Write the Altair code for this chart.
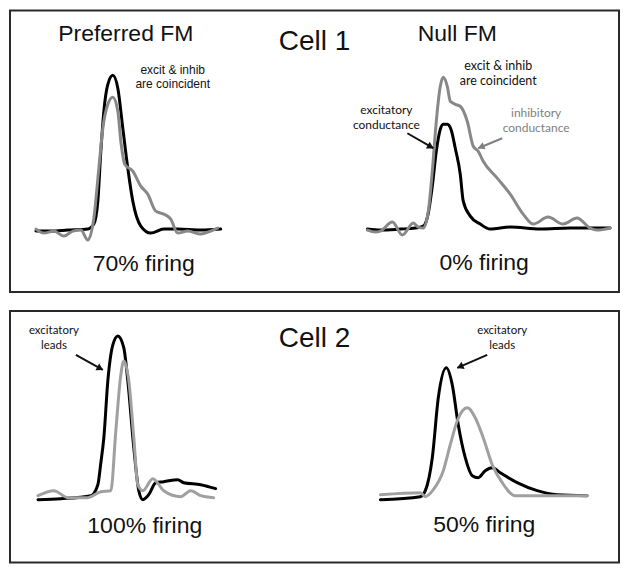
import altair as alt
import pandas as pd
import numpy as np

# ---------------- data ----------------
# Cell 1, preferred FM
c1p_exc_t = [26, 41, 58, 78, 84, 88, 91, 94, 98, 103, 108, 113, 118, 123, 131, 141, 154, 168, 191, 211]
c1p_exc_g = [61, 61, 62, 63, 68, 91, 141, 181, 208, 217, 204, 164, 124, 91, 66, 59, 63, 63, 62, 63]
c1p_inh_t = [26, 34, 44, 54, 63, 71, 78, 84, 89, 93, 98, 103, 108, 111, 115, 123, 131, 138, 146, 154, 161, 168, 178, 191, 201, 208]
c1p_inh_g = [63, 59, 61, 56, 61, 62, 52, 74, 124, 164, 188, 195, 181, 151, 128, 121, 106, 98, 81, 78, 73, 59, 61, 58, 61, 64]
# Cell 1, null FM
c1n_exc_t = [358, 371, 391, 406, 414, 419, 423, 427, 431, 434, 438, 442, 446, 451, 454, 461, 471, 481, 501, 531, 561, 601]
c1n_exc_g = [63, 62, 63, 64, 66, 79, 106, 141, 163, 168, 168, 162, 144, 118, 91, 76, 68, 63, 65, 63, 64, 64]
c1n_inh_t = [358, 366, 371, 383, 393, 404, 409, 414, 419, 423, 427, 431, 434, 438, 441, 446, 451, 458, 464, 469, 474, 488, 501, 514, 524, 539, 554, 568, 581, 588, 601]
c1n_inh_g = [62, 60, 61, 70, 57, 69, 65, 64, 81, 121, 171, 206, 215, 206, 191, 188, 186, 171, 146, 141, 131, 114, 98, 78, 68, 75, 68, 74, 64, 62, 64]
# Cell 2, left
c2a_exc_t = [28, 51, 81, 88, 91, 94, 98, 103, 108, 114, 118, 124, 129, 133, 139, 146, 154, 168, 174, 191, 206]
c2a_exc_g = [63, 64, 67, 78, 100, 125, 182, 218, 227, 215, 182, 115, 72, 63, 68, 80, 81, 83, 80, 78, 74]
c2a_inh_t = [28, 44, 58, 78, 91, 101, 106, 111, 114, 119, 124, 128, 133, 143, 154, 171, 181, 191, 204]
c2a_inh_g = [67, 72, 65, 65, 71, 72, 132, 188, 202, 182, 125, 78, 72, 84, 72, 66, 72, 67, 65]
# Cell 2, right
c2b_exc_t = [371, 411, 416, 423, 429, 437, 443, 449, 456, 463, 469, 476, 483, 491, 508, 528, 548, 578]
c2b_exc_g = [63, 66, 72, 105, 165, 195, 178, 138, 105, 87, 85, 92, 95, 90, 80, 72, 68, 67]
c2b_inh_t = [371, 411, 416, 424, 434, 441, 448, 458, 466, 474, 483, 493, 506, 534, 578]
c2b_inh_g = [68, 70, 66, 73, 92, 118, 142, 155, 145, 125, 98, 80, 67, 67, 67]

# labels: (box, x, y, text, size, color, font)
labels = [
    (1, 116, 258, "Preferred FM", 23, "#111111", "sans"),
    (1, 305, 250, "Cell 1", 28, "#111111", "sans"),
    (1, 448, 258, "Null FM", 23, "#111111", "sans"),
    (1, 163, 222, "excit & inhib", 12, "#111111", "sans"),
    (1, 163, 208, "are coincident", 12, "#111111", "sans"),
    (1, 134, 28, "70% firing", 23, "#111111", "sans"),
    (1, 475, 29, "0% firing", 23, "#111111", "sans"),
    (1, 489, 226, "excit & inhib", 12.5, "#111111", "gill"),
    (1, 489, 211, "are coincident", 12.5, "#111111", "gill"),
    (1, 377, 182, "excitatory", 12, "#111111", "gill"),
    (1, 377, 167, "conductance", 12, "#111111", "gill"),
    (1, 527, 179, "inhibitory", 12, "#808080", "gill"),
    (1, 527, 164, "conductance", 12, "#808080", "gill"),
    (2, 305, 224, "Cell 2", 28, "#111111", "sans"),
    (2, 44, 232, "excitatory", 11.5, "#111111", "gill"),
    (2, 44, 217, "leads", 11.5, "#111111", "gill"),
    (2, 493, 232, "excitatory", 11.5, "#111111", "gill"),
    (2, 493, 217, "leads", 11.5, "#111111", "gill"),
    (2, 135, 37, "100% firing", 23, "#111111", "sans"),
    (2, 475, 38, "50% firing", 23, "#111111", "sans"),
]

# arrows: (box, x1, y1, x2, y2, color)
arrows = [
    (1, 398, 159, 424, 144, "#111111"),
    (1, 493, 154, 469, 144, "#808080"),
    (2, 66, 208, 93, 193, "#111111"),
    (2, 478, 208, 448, 195, "#111111"),
]

# ---------------- build tables ----------------
rows = []
def add(box, name, t, g, color):
    for i, (a, b) in enumerate(zip(t, g)):
        rows.append(dict(box=box, trace=name, i=i, x=a, y=b, color=color))

add(1, "pref_exc", c1p_exc_t, c1p_exc_g, "#000000")
add(1, "pref_inh", c1p_inh_t, c1p_inh_g, "#888888")
add(1, "null_exc", c1n_exc_t, c1n_exc_g, "#000000")
add(1, "null_inh", c1n_inh_t, c1n_inh_g, "#888888")
add(2, "a_exc", c2a_exc_t, c2a_exc_g, "#000000")
add(2, "a_inh", c2a_inh_t, c2a_inh_g, "#a0a0a0")
add(2, "b_exc", c2b_exc_t, c2b_exc_g, "#000000")
add(2, "b_inh", c2b_inh_t, c2b_inh_g, "#a0a0a0")
traces = pd.DataFrame(rows)

lab = pd.DataFrame(labels, columns=["box", "x", "y", "text", "size", "color", "font"])
arr = pd.DataFrame(arrows, columns=["box", "x1", "y1", "x2", "y2", "color"])
dx = arr.x2 - arr.x1
dy = arr.y2 - arr.y1
L = np.hypot(dx, dy)
arr["angle"] = (np.degrees(np.arctan2(dx, dy)) + 360) % 360
arr["hx"] = arr.x2 - 3 * dx / L
arr["hy"] = arr.y2 - 3 * dy / L

W = 610
H = {1: 282, 2: 252}

def box_chart(b):
    xs = alt.Scale(domain=[0, W], nice=False, zero=False)
    ys = alt.Scale(domain=[0, H[b]], nice=False, zero=False)
    tr = traces[traces.box == b]
    layers = []
    for name in tr.trace.unique():
        d = tr[tr.trace == name]
        layers.append(
            alt.Chart(d).mark_line(strokeWidth=3, interpolate="monotone", strokeJoin="round", strokeCap="round").encode(
                x=alt.X("x:Q", scale=xs, axis=None),
                y=alt.Y("y:Q", scale=ys, axis=None),
                order="i:Q",
                color=alt.Color("color:N", scale=None),
            )
        )
    a = arr[arr.box == b]
    layers.append(
        alt.Chart(a).mark_rule(strokeWidth=2).encode(
            x=alt.X("x1:Q", scale=xs, axis=None), y=alt.Y("y1:Q", scale=ys, axis=None),
            x2="x2:Q", y2="y2:Q", color=alt.Color("color:N", scale=None))
    )
    layers.append(
        alt.Chart(a).mark_point(shape="triangle-up", filled=True, opacity=1, size=60).encode(
            x=alt.X("hx:Q", scale=xs, axis=None), y=alt.Y("hy:Q", scale=ys, axis=None),
            angle=alt.Angle("angle:Q", scale=None), color=alt.Color("color:N", scale=None))
    )
    lb = lab[lab.box == b]
    for font, fam in [("sans", "Liberation Sans"), ("gill", "Lato")]:
        d = lb[lb.font == font]
        if len(d):
            layers.append(
                alt.Chart(d).mark_text(font=fam, align="center", baseline="middle").encode(
                    x=alt.X("x:Q", scale=xs, axis=None), y=alt.Y("y:Q", scale=ys, axis=None),
                    text="text:N", size=alt.Size("size:Q", scale=None),
                    color=alt.Color("color:N", scale=None))
            )
    return alt.layer(*layers).properties(
        width=W, height=H[b],
        view=alt.ViewBackground(stroke="#2a2a2a", strokeWidth=2, fill="white"),
    )

chart = alt.vconcat(box_chart(1), box_chart(2), spacing=17).properties(
    padding={"left": 1, "top": 1, "right": 1, "bottom": 1},
    background="white",
)

chart.save("out.html", embed_options={"renderer": "svg", "actions": False})
